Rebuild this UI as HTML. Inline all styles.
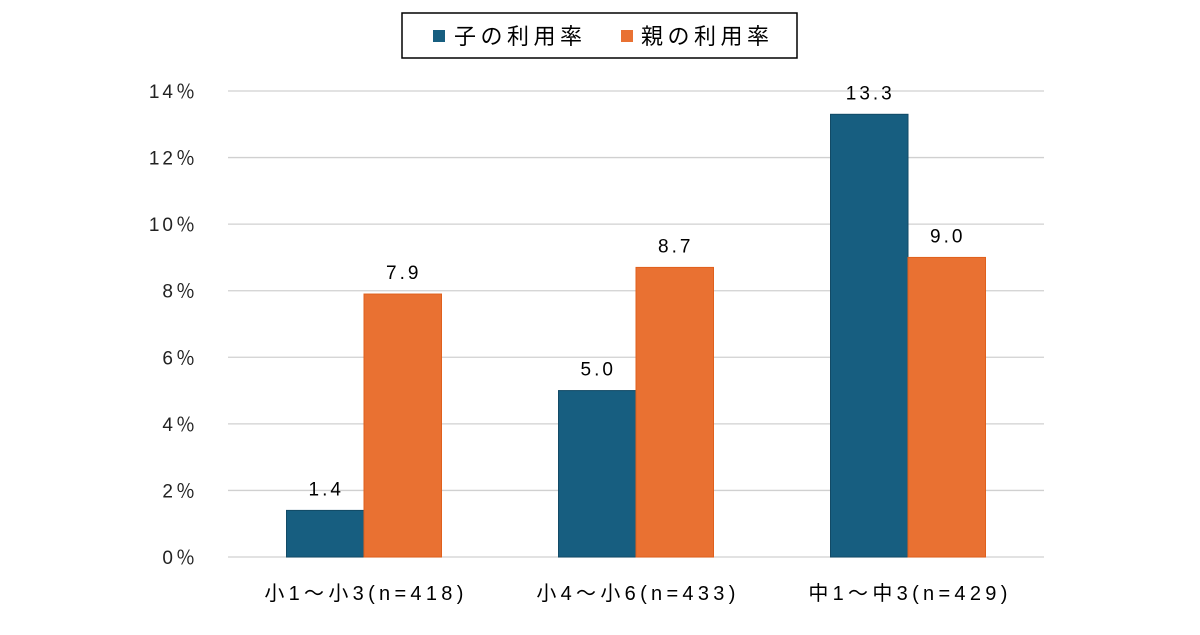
<!DOCTYPE html>
<html><head><meta charset="utf-8"><style>
body{margin:0;background:#fff;width:1200px;height:630px;overflow:hidden;font-family:"Liberation Sans","Noto Sans CJK JP",sans-serif;}
</style></head><body>
<svg id="c" width="1200" height="630" style="font-family:'Liberation Sans','Noto Sans CJK JP',sans-serif">
<g id="legend">
<rect x="402" y="13" width="395" height="45" fill="#fff" stroke="#000" stroke-width="1.5"/>
<rect x="433" y="30" width="12" height="12" fill="#175e80"/>
<text x="454" y="44" font-size="22" fill="#000" letter-spacing="4.5">子の利用率</text>
<rect x="621" y="30" width="12" height="12" fill="#e97132"/>
<text x="641" y="44" font-size="22" fill="#000" letter-spacing="4.5">親の利用率</text>
</g>
</svg>
<script>
const categories=["小1～小3(n=418)","小4～小6(n=433)","中1～中3(n=429)"];
const childValues=[1.4,5.0,13.3];
const parentValues=[7.9,8.7,9.0];
const yTicks=[0,2,4,6,8,10,12,14];
const NS="http://www.w3.org/2000/svg";
const svg=document.getElementById('c');
const x0=228,x1=1044,yBase=557,yTop=91,yMax=14;
const y=v=>yBase-(v/yMax)*(yBase-yTop);
const bandW=(x1-x0)/categories.length;
const barW=77.5;
function mk(t,a){const e=document.createElementNS(NS,t);for(const k in a)e.setAttribute(k,a[k]);svg.appendChild(e);return e;}
yTicks.forEach(t=>{
 const l=mk('line',{x1:x0,x2:x1,y1:y(t),y2:y(t),stroke:'#d0d0d0','stroke-width':1.3});
 
 
 const tx=mk('text',{x:198,y:y(t)+7,'text-anchor':'end','font-size':19,fill:'#222','letter-spacing':'3'});
 tx.textContent=t+'％';
 
 
});
categories.forEach((c,i)=>{
 const cx=x0+bandW*(i+0.5);
 [[childValues[i],'#175e80','#124a66',cx-barW],[parentValues[i],'#e97132','#e0601c',cx]].forEach(([v,f,s,bx],j)=>{
  const r=mk('rect',{x:bx,y:y(v),width:barW,height:yBase-y(v),fill:f,stroke:s,'stroke-width':1});
  
  
  const t=mk('text',{x:bx+barW/2+1,y:y(v)-15,'text-anchor':'middle','font-size':19,fill:'#000','letter-spacing':'3'});
  t.textContent=v.toFixed(1);
  
  
 });
 const t=mk('text',{x:cx+2,y:600,'text-anchor':'middle','font-size':20,fill:'#000','letter-spacing':'4.3'});
 t.textContent=c;
 
 
});
</script>
</body></html>
